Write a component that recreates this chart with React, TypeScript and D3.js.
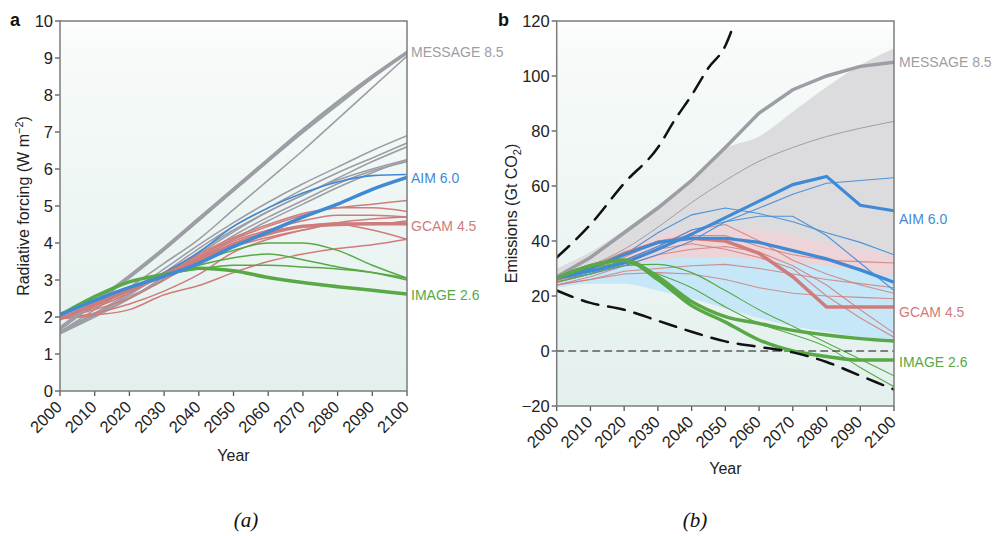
import React from "react";
import * as d3 from "d3";

const years = [2000, 2010, 2020, 2030, 2040, 2050, 2060, 2070, 2080, 2090, 2100];

// panel a: radiative forcing (W m-2)
const forcingTicks = [0, 1, 2, 3, 4, 5, 6, 7, 8, 9, 10];
const forcingMessage = [1.7, 2.4, 3.1, 3.85, 4.65, 5.45, 6.25, 7.05, 7.8, 8.5, 9.15];
const forcingGrey = [
  [1.65, 2.35, 3.05, 3.8, 4.6, 5.4, 6.2, 6.98, 7.72, 8.45, 9.12],
  [1.6, 2.2, 2.8, 3.45, 4.1, 4.9, 5.7, 6.5, 7.35, 8.2, 9.05],
  [1.6, 2.1, 2.65, 3.3, 3.95, 4.55, 5.1, 5.6, 6.05, 6.5, 6.9],
  [1.55, 2.05, 2.6, 3.2, 3.85, 4.45, 4.95, 5.45, 5.9, 6.3, 6.7],
  [1.55, 2.0, 2.5, 3.1, 3.75, 4.35, 4.85, 5.3, 5.75, 6.2, 6.6],
  [1.6, 2.05, 2.5, 3.05, 3.7, 4.3, 4.85, 5.3, 5.7, 6.0, 6.25],
  [1.6, 2.1, 2.55, 3.0, 3.6, 4.2, 4.7, 5.15, 5.6, 5.95, 6.2],
  [2.1, 2.4, 2.75, 3.1, 3.55, 4.1, 4.6, 5.05, 5.5, 5.9, 6.25],
];
const forcingAim = [2.05, 2.45, 2.8, 3.1, 3.45, 3.9, 4.3, 4.7, 5.05, 5.45, 5.77];
const forcingBlue = [[2.1, 2.45, 2.8, 3.2, 3.75, 4.45, 4.95, 5.35, 5.65, 5.82, 5.85]];
const forcingGcam = [1.95, 2.35, 2.75, 3.15, 3.55, 3.95, 4.25, 4.45, 4.5, 4.52, 4.52];
const forcingRed = [
  [1.95, 2.3, 2.7, 3.2, 3.7, 4.15, 4.5, 4.8, 4.95, 5.05, 5.15],
  [1.95, 2.3, 2.75, 3.2, 3.65, 4.1, 4.45, 4.75, 4.95, 4.95, 4.85],
  [1.95, 2.25, 2.65, 3.15, 3.6, 4.05, 4.35, 4.6, 4.75, 4.75, 4.7],
  [1.95, 2.3, 2.7, 3.1, 3.55, 4.0, 4.3, 4.45, 4.55, 4.5, 4.6],
  [1.95, 2.2, 2.5, 3.0, 3.5, 3.9, 4.15, 4.35, 4.5, 4.35, 4.1],
  [1.95, 2.05, 2.2, 2.6, 2.85, 3.2, 3.5, 3.7, 3.85, 3.95, 4.1],
  [1.95, 2.1, 2.35, 2.7, 3.15, 3.75, 4.1, 4.35, 4.55, 4.65, 4.7],
];
const forcingImage = [2.05, 2.55, 2.95, 3.15, 3.32, 3.25, 3.07, 2.93, 2.82, 2.72, 2.62];
const forcingGreen = [
  [2.05, 2.55, 2.95, 3.15, 3.5, 3.8, 4.0, 4.0, 3.8, 3.4, 3.05],
  [2.05, 2.55, 2.95, 3.15, 3.4, 3.6, 3.7, 3.55, 3.35, 3.2, 3.0],
  [2.05, 2.55, 2.95, 3.15, 3.3, 3.4, 3.4, 3.35, 3.3, 3.2, 3.05],
];

// panel b: emissions (Gt CO2)
const emissionTicks = [-20, 0, 20, 40, 60, 80, 100, 120];
const greyBandHigh = [30, 36, 44, 53, 63, 73.5, 78, 87, 96, 104, 110];
const greyBandLow = [24, 28, 32, 36, 38, 39, 38, 37, 35, 33, 31];
const pinkBandHigh = [28, 32, 37, 42, 44, 45, 44, 42, 39, 37, 35];
const pinkBandLow = [24, 25, 27, 28, 29, 29, 28, 27, 26, 25, 24];
const blueBandHigh = [27, 29, 31, 33, 34, 34, 33, 32, 31, 29, 27];
const blueBandLow = [23, 24.5, 24.5, 22, 19, 15.5, 12, 9, 7, 5, 4];

const emissionMessage = [27, 34, 43, 52, 62, 74, 86.5, 95, 100, 103.5, 105];
const emissionGrey = [[26, 31, 37, 45, 54, 62, 69, 74, 78, 81, 83.5]];
const emissionAim = [
  [26.5, 29, 32, 37, 42.5, 48.5, 54.5, 60.5, 63.5, 53, 51],
  [26.5, 30, 35, 39.5, 41, 41, 39.5, 36.5, 33.5, 29.5, 25],
];
const emissionBlue = [
  [26, 28, 31, 35, 40, 47, 52, 57, 61, 62, 63],
  [26, 30, 35, 43, 49.5, 52, 50, 47, 43, 39.5, 35],
  [26, 29, 33, 38, 44, 47, 49, 49, 42, 32, 22],
];
const emissionGcam = [26, 30, 35.5, 39.5, 41, 40, 35.5, 27, 16, 16, 16];
const emissionRed = [
  [25, 28, 33, 38, 44, 46, 40, 33, 28, 24, 21],
  [25, 29, 34, 40, 42, 42, 38, 35, 33, 32.5, 32],
  [24, 27, 31, 35, 37, 38, 36, 31, 24, 15, 6.5],
  [24, 26, 29, 30, 31, 31.5, 30, 28, 26, 24.5, 23],
  [24, 26, 28, 28.5, 28, 26, 23, 21, 20, 19.5, 19],
  [25, 28, 33, 37, 39, 37, 34, 30, 20, 12, 5],
];
const emissionImage = [
  [26.5, 31, 33, 26, 16.5, 10.5, 4, 0, -2, -3.3, -3.3],
  [26.5, 31, 33, 27, 18, 12.5, 10, 7.5, 5.8, 4.5, 3.6],
];
const emissionGreen = [
  [26, 30, 32, 28, 23, 16, 10, 6, 1.5, -6, -13],
  [25, 28, 31, 31.5, 28.5, 22, 15, 9, 3, -3, -9],
];
const highYears = [2000, 2010, 2020, 2030, 2035, 2040, 2045, 2050, 2052];
const dashedHigh = [34, 46, 61, 74, 84, 93, 103, 111, 117];
const dashedLow = [22, 17.5, 15, 11, 7, 3.5, 1.5, -0.5, -4, -9, -14];

const GREY = "#9d9da5";
const BLUE = "#3f8ad5";
const RED = "#cf7c7b";
const GREEN = "#58a846";
const SANS = "'Liberation Sans', Arial, Helvetica, sans-serif";

type Box = { left: number; top: number; right: number; bottom: number };

const boxA: Box = { left: 60, top: 21, right: 407, bottom: 391 };
const boxB: Box = { left: 556.7, top: 21, right: 894, bottom: 406 };

function Axes({ box, x, y, yTicks }: { box: Box; x: d3.ScaleLinear<number, number>; y: d3.ScaleLinear<number, number>; yTicks: number[] }) {
  return (
    <g>
      {yTicks.map((t) => (
        <g key={"y" + t}>
          <line x1={box.left - 5} x2={box.left} y1={y(t)} y2={y(t)} stroke="#555" strokeWidth={1.3} />
          <text x={box.left - 7} y={y(t)} dy="0.35em" textAnchor="end" fontFamily={SANS} fontSize={16.5} fill="#222">
            {t < 0 ? "\u2212" + Math.abs(t) : t}
          </text>
        </g>
      ))}
      {years.map((t) => (
        <g key={"x" + t}>
          <line x1={x(t)} x2={x(t)} y1={box.bottom} y2={box.bottom + 5} stroke="#555" strokeWidth={1.3} />
          <text
            transform={`translate(${x(t) + 3},${box.bottom + 17}) rotate(-45)`}
            textAnchor="end"
            fontFamily={SANS}
            fontSize={16.5}
            fill="#222"
          >
            {t}
          </text>
        </g>
      ))}
      <rect
        x={box.left}
        y={box.top}
        width={box.right - box.left}
        height={box.bottom - box.top}
        fill="none"
        stroke="#7c7c7c"
        strokeWidth={1.5}
      />
    </g>
  );
}

export default function App() {
  const xA = d3.scaleLinear().domain([2000, 2100]).range([boxA.left, boxA.right]);
  const yA = d3.scaleLinear().domain([0, 10]).range([boxA.bottom, boxA.top]);
  const xB = d3.scaleLinear().domain([2000, 2100]).range([boxB.left, boxB.right]);
  const yB = d3.scaleLinear().domain([-20, 120]).range([boxB.bottom, boxB.top]);

  const lineA = d3
    .line<number>()
    .x((_, i) => xA(years[i]))
    .y((d) => yA(d))
    .curve(d3.curveMonotoneX);
  const lineB = d3
    .line<number>()
    .x((_, i) => xB(years[i]))
    .y((d) => yB(d))
    .curve(d3.curveMonotoneX);
  const lineBStraight = d3
    .line<number>()
    .x((_, i) => xB(years[i]))
    .y((d) => yB(d));
  const lineHigh = d3
    .line<number>()
    .x((_, i) => xB(highYears[i]))
    .y((d) => yB(d))
    .curve(d3.curveMonotoneX);
  const band = (hi: number[], lo: number[]) =>
    d3
      .area<number>()
      .x((_, i) => xB(years[i]))
      .y0((_, i) => yB(lo[i]))
      .y1((d) => yB(d))
      .curve(d3.curveMonotoneX)(hi) || "";

  return (
    <svg width={997} height={536} style={{ position: "absolute", left: 0, top: 0, background: "#fff" }}>
      <defs>
        <linearGradient id="bg" x1="0" y1="0" x2="0" y2="1">
          <stop offset="0" stopColor="#ffffff" />
          <stop offset="0.06" stopColor="#f7fbfa" />
          <stop offset="1" stopColor="#e3f0ed" />
        </linearGradient>
        <clipPath id="clipA">
          <rect x={boxA.left} y={boxA.top} width={boxA.right - boxA.left} height={boxA.bottom - boxA.top} />
        </clipPath>
        <clipPath id="clipB">
          <rect x={boxB.left} y={boxB.top} width={boxB.right - boxB.left} height={boxB.bottom - boxB.top} />
        </clipPath>
      </defs>

      {/* panel a */}
      <rect x={boxA.left} y={boxA.top} width={boxA.right - boxA.left} height={boxA.bottom - boxA.top} fill="url(#bg)" />
      <g clipPath="url(#clipA)" fill="none" strokeLinecap="round">
        {forcingGrey.map((s, i) => (
          <path key={"ag" + i} d={lineA(s) || ""} stroke={GREY} strokeWidth={1.6} />
        ))}
        {forcingRed.map((s, i) => (
          <path key={"ar" + i} d={lineA(s) || ""} stroke={RED} strokeWidth={1.5} />
        ))}
        {forcingGreen.map((s, i) => (
          <path key={"an" + i} d={lineA(s) || ""} stroke={GREEN} strokeWidth={1.5} />
        ))}
        {forcingBlue.map((s, i) => (
          <path key={"ab" + i} d={lineA(s) || ""} stroke={BLUE} strokeWidth={1.6} />
        ))}
        <path d={lineA(forcingMessage) || ""} stroke={GREY} strokeWidth={3.5} />
        <path d={lineA(forcingGcam) || ""} stroke={RED} strokeWidth={3.5} />
        <path d={lineA(forcingImage) || ""} stroke={GREEN} strokeWidth={3.5} />
        <path d={lineA(forcingAim) || ""} stroke={BLUE} strokeWidth={3.5} />
      </g>
      <Axes box={boxA} x={xA} y={yA} yTicks={forcingTicks} />
      <g fontFamily={SANS} fontSize={14}>
        <text x={boxA.right + 4} y={yA(9.15)} dy="0.35em" fill={GREY}>MESSAGE 8.5</text>
        <text x={boxA.right + 4} y={yA(5.75)} dy="0.35em" fill={BLUE}>AIM 6.0</text>
        <text x={boxA.right + 4} y={yA(4.45)} dy="0.35em" fill={RED}>GCAM 4.5</text>
        <text x={boxA.right + 4} y={yA(2.6)} dy="0.35em" fill={GREEN}>IMAGE 2.6</text>
      </g>
      <text x={10} y={26} fontFamily={SANS} fontSize={18} fontWeight="bold" fill="#111">a</text>
      <text
        transform={`translate(29,${(boxA.top + boxA.bottom) / 2}) rotate(-90)`}
        textAnchor="middle"
        fontFamily={SANS}
        fontSize={16}
        fill="#222"
      >
        Radiative forcing (W m<tspan dy={-6} fontSize={11}>−2</tspan><tspan dy={6}>)</tspan>
      </text>
      <text x={(boxA.left + boxA.right) / 2} y={461} textAnchor="middle" fontFamily={SANS} fontSize={16} fill="#222">
        Year
      </text>

      {/* panel b */}
      <rect x={boxB.left} y={boxB.top} width={boxB.right - boxB.left} height={boxB.bottom - boxB.top} fill="url(#bg)" />
      <g clipPath="url(#clipB)">
        <path d={band(greyBandHigh, greyBandLow)} fill="#dcdcdf" />
        <path d={band(pinkBandHigh, pinkBandLow)} fill="#edd4d8" />
        <path d={band(blueBandHigh, blueBandLow)} fill="#c6e7f7" />
        <g fill="none" strokeLinecap="round">
          <path d={lineB(emissionGrey[0]) || ""} stroke={GREY} strokeWidth={1} />
          {emissionRed.map((s, i) => (
            <path key={"br" + i} d={lineBStraight(s) || ""} stroke={RED} strokeWidth={1.1} opacity={0.85} />
          ))}
          {emissionBlue.map((s, i) => (
            <path key={"bb" + i} d={lineBStraight(s) || ""} stroke={BLUE} strokeWidth={1.1} opacity={0.9} />
          ))}
          {emissionGreen.map((s, i) => (
            <path key={"bn" + i} d={lineB(s) || ""} stroke={GREEN} strokeWidth={1.1} />
          ))}
          <line x1={boxB.left} x2={boxB.right} y1={yB(0)} y2={yB(0)} stroke="#111" strokeWidth={1.1} strokeDasharray="7,5" />
          <path d={lineBStraight(emissionMessage) || ""} stroke={GREY} strokeWidth={3.5} />
          <path d={lineBStraight(emissionGcam) || ""} stroke={RED} strokeWidth={3.5} />
          {emissionAim.map((s, i) => (
            <path key={"ba" + i} d={lineBStraight(s) || ""} stroke={BLUE} strokeWidth={3.2} />
          ))}
          {emissionImage.map((s, i) => (
            <path key={"bi" + i} d={lineB(s) || ""} stroke={GREEN} strokeWidth={3.5} />
          ))}
          <path d={lineHigh(dashedHigh) || ""} stroke="#111" strokeWidth={2.5} strokeDasharray="17,10" />
          <path d={lineB(dashedLow) || ""} stroke="#111" strokeWidth={2.5} strokeDasharray="17,10" />
        </g>
      </g>
      <Axes box={boxB} x={xB} y={yB} yTicks={emissionTicks} />
      <g fontFamily={SANS} fontSize={14}>
        <text x={boxB.right + 5} y={yB(105)} dy="0.35em" fill={GREY}>MESSAGE 8.5</text>
        <text x={boxB.right + 5} y={yB(48)} dy="0.35em" fill={BLUE}>AIM 6.0</text>
        <text x={boxB.right + 5} y={yB(14)} dy="0.35em" fill={RED}>GCAM 4.5</text>
        <text x={boxB.right + 5} y={yB(-4)} dy="0.35em" fill={GREEN}>IMAGE 2.6</text>
      </g>
      <text x={498} y={26} fontFamily={SANS} fontSize={18} fontWeight="bold" fill="#111">b</text>
      <text
        transform={`translate(517,${(boxB.top + boxB.bottom) / 2}) rotate(-90)`}
        textAnchor="middle"
        fontFamily={SANS}
        fontSize={16}
        fill="#222"
      >
        Emissions (Gt CO<tspan dy={4} fontSize={11}>2</tspan><tspan dy={-4}>)</tspan>
      </text>
      <text x={(boxB.left + boxB.right) / 2} y={474} textAnchor="middle" fontFamily={SANS} fontSize={16} fill="#222">
        Year
      </text>

      <g fontFamily="'Liberation Serif', 'Times New Roman', serif" fontStyle="italic" fontSize={21} textAnchor="middle" fill="#111">
        <text x={246} y={527}>(a)</text>
        <text x={695} y={527}>(b)</text>
      </g>
    </svg>
  );
}
